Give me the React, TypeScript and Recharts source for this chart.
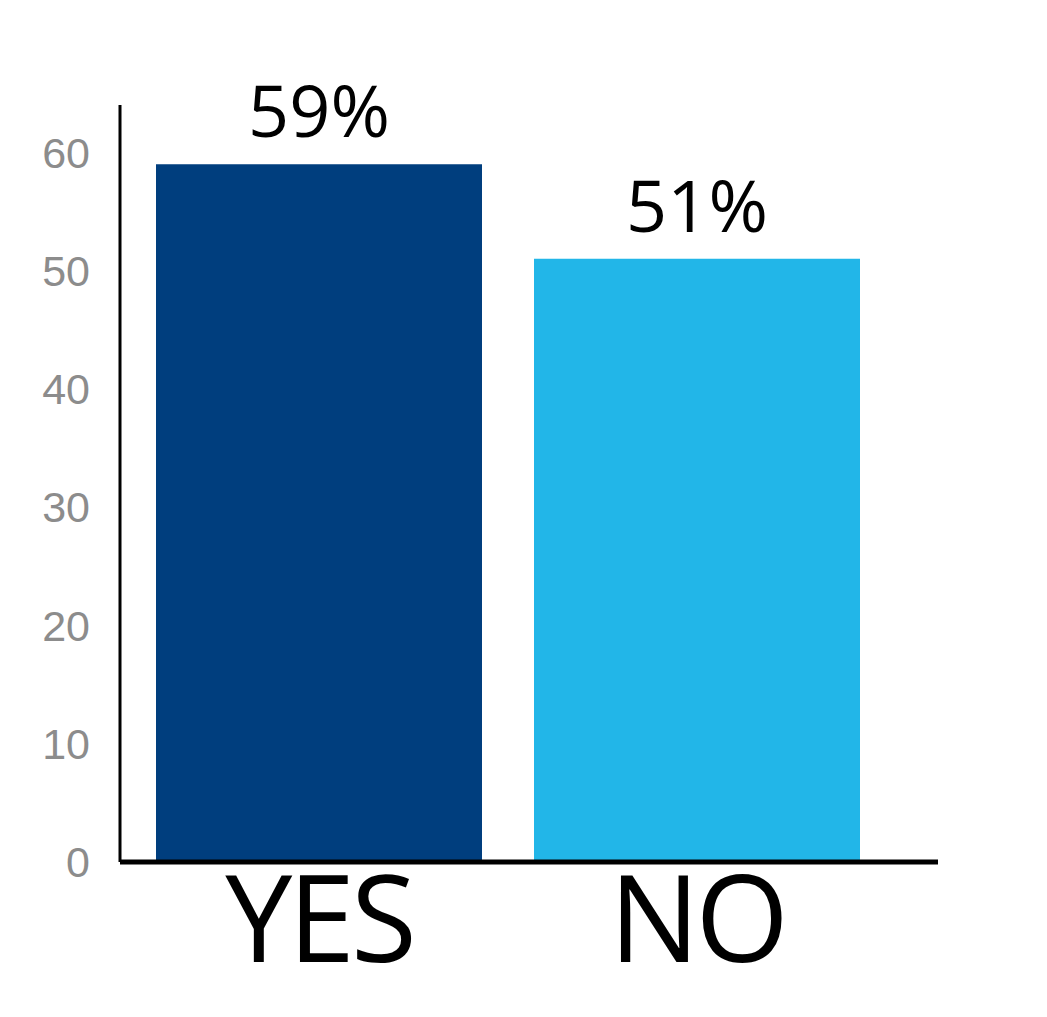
import React from 'react';
import { BarChart, Bar, XAxis, YAxis, Cell, LabelList } from 'recharts';

const categories = ['YES', 'NO'];
const values = [59, 51];
const barColors = ['#003e7e', '#22b6e8'];
const yTicks = [0, 10, 20, 30, 40, 50, 60];

const data = categories.map((name, i) => ({ name, value: values[i] }));

const App: React.FC = () => {
  return (
    <div style={{ width: 1047, height: 1017, background: '#ffffff' }}>
      <style>{'body { margin: 0; }'}</style>
      <BarChart
        width={1047}
        height={1017}
        data={data}
        margin={{ top: 105, right: 109, bottom: 0, left: 0 }}
        barSize={326}
      >
        <XAxis
          dataKey="name"
          height={155}
          padding={{ left: 10, right: 52 }}
          axisLine={{ stroke: '#000000', strokeWidth: 5 }}
          tickLine={false}
          tickSize={0}
          tickMargin={15}
          tick={{ fill: '#000000', fontSize: 120, fontFamily: '"Open Sans", sans-serif', letterSpacing: -4 }}
        />
        <YAxis
          width={120}
          domain={[0, 64]}
          ticks={yTicks}
          allowDataOverflow
          axisLine={{ stroke: '#000000', strokeWidth: 3 }}
          tickLine={false}
          tickSize={0}
          tickMargin={30}
          tick={{ fill: '#8c8c8c', fontSize: 43, fontFamily: '"Liberation Sans", Arial, sans-serif' }}
        />
        <Bar dataKey="value" isAnimationActive={false}>
          {data.map((d, i) => (
            <Cell key={d.name} fill={barColors[i]} />
          ))}
          <LabelList
            dataKey="value"
            position="top"
            offset={27}
            formatter={(v: number) => `${v}%`}
            style={{ fill: '#000000', fontSize: 72, fontFamily: '"Open Sans", sans-serif' }}
          />
        </Bar>
      </BarChart>
    </div>
  );
};

export default App;
